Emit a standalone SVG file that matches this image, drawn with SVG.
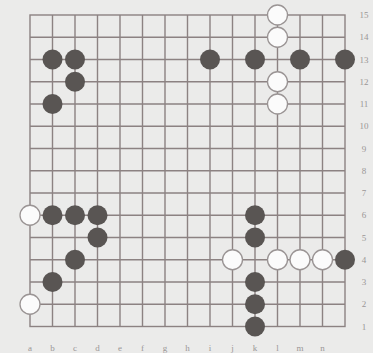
<svg xmlns="http://www.w3.org/2000/svg" width="373" height="353" viewBox="0 0 373 353">
<defs>
<style>
.g{stroke:#8c8282;stroke-width:1.4;fill:none}
.b{fill:#595553}
.w{fill:#fbfbfb;stroke:#9a9494;stroke-width:1.3}
.lbl{font-family:"Liberation Serif",serif;font-size:9px;fill:#9a9696;text-anchor:middle}
</style>
</defs>
<rect width="373" height="353" fill="#ebebea"/>
<g id="grid" class="g">
<rect x="30" y="15" width="315" height="311.5"/>
<path d="M52.5 15V326.5M75 15V326.5M97.5 15V326.5M120 15V326.5M142.5 15V326.5M165 15V326.5M187.5 15V326.5M210 15V326.5M232.5 15V326.5M255 15V326.5M277.5 15V326.5M300 15V326.5M322.5 15V326.5"/>
<path d="M30 37.25H345M30 59.5H345M30 81.75H345M30 104H345M30 126.25H345M30 148.5H345M30 170.75H345M30 193H345M30 215.25H345M30 237.5H345M30 259.75H345M30 282H345M30 304.25H345"/>
</g>
<g id="stones">
<circle id="b1" class="b" cx="52.5" cy="59.5" r="10"/>
<circle id="b2" class="b" cx="75" cy="59.5" r="10"/>
<circle id="b3" class="b" cx="75" cy="81.75" r="10"/>
<circle id="b4" class="b" cx="52.5" cy="104" r="10"/>
<circle id="b5" class="b" cx="210" cy="59.5" r="10"/>
<circle id="b6" class="b" cx="255" cy="59.5" r="10"/>
<circle id="b7" class="b" cx="300" cy="59.5" r="10"/>
<circle id="b8" class="b" cx="345" cy="59.5" r="10"/>
<circle id="w1" class="w" cx="277.5" cy="15" r="10"/>
<circle id="w2" class="w" cx="277.5" cy="37.25" r="10"/>
<circle id="w3" class="w" cx="277.5" cy="81.75" r="10"/>
<circle id="w4" class="w" cx="277.5" cy="104" r="10"/>
<circle id="w5" class="w" cx="30" cy="215.25" r="10"/>
<circle id="b9" class="b" cx="52.5" cy="215.25" r="10"/>
<circle id="b10" class="b" cx="75" cy="215.25" r="10"/>
<circle id="b11" class="b" cx="97.5" cy="215.25" r="10"/>
<circle id="b12" class="b" cx="97.5" cy="237.5" r="10"/>
<circle id="b13" class="b" cx="75" cy="259.75" r="10"/>
<circle id="b14" class="b" cx="52.5" cy="282" r="10"/>
<circle id="w6" class="w" cx="30" cy="304.25" r="10"/>
<circle id="b15" class="b" cx="255" cy="215.25" r="10"/>
<circle id="b16" class="b" cx="255" cy="237.5" r="10"/>
<circle id="w7" class="w" cx="232.5" cy="259.75" r="10"/>
<circle id="w8" class="w" cx="277.5" cy="259.75" r="10"/>
<circle id="w9" class="w" cx="300" cy="259.75" r="10"/>
<circle id="w10" class="w" cx="322.5" cy="259.75" r="10"/>
<circle id="b17" class="b" cx="345" cy="259.75" r="10"/>
<circle id="b18" class="b" cx="255" cy="282" r="10"/>
<circle id="b19" class="b" cx="255" cy="304.25" r="10"/>
<circle id="b20" class="b" cx="255" cy="326.5" r="10"/>
</g>
<g id="row-labels" class="lbl">
<text x="364" y="18">15</text>
<text x="364" y="40.25">14</text>
<text x="364" y="62.5">13</text>
<text x="364" y="84.75">12</text>
<text x="364" y="107">11</text>
<text x="364" y="129.25">10</text>
<text x="364" y="151.5">9</text>
<text x="364" y="173.75">8</text>
<text x="364" y="196">7</text>
<text x="364" y="218.25">6</text>
<text x="364" y="240.5">5</text>
<text x="364" y="262.75">4</text>
<text x="364" y="285">3</text>
<text x="364" y="307.25">2</text>
<text x="364" y="329.5">1</text>
</g>
<g id="col-labels" class="lbl">
<text x="30" y="351">a</text>
<text x="52.5" y="351">b</text>
<text x="75" y="351">c</text>
<text x="97.5" y="351">d</text>
<text x="120" y="351">e</text>
<text x="142.5" y="351">f</text>
<text x="165" y="351">g</text>
<text x="187.5" y="351">h</text>
<text x="210" y="351">i</text>
<text x="232.5" y="351">j</text>
<text x="255" y="351">k</text>
<text x="277.5" y="351">l</text>
<text x="300" y="351">m</text>
<text x="322.5" y="351">n</text>
</g>
</svg>
